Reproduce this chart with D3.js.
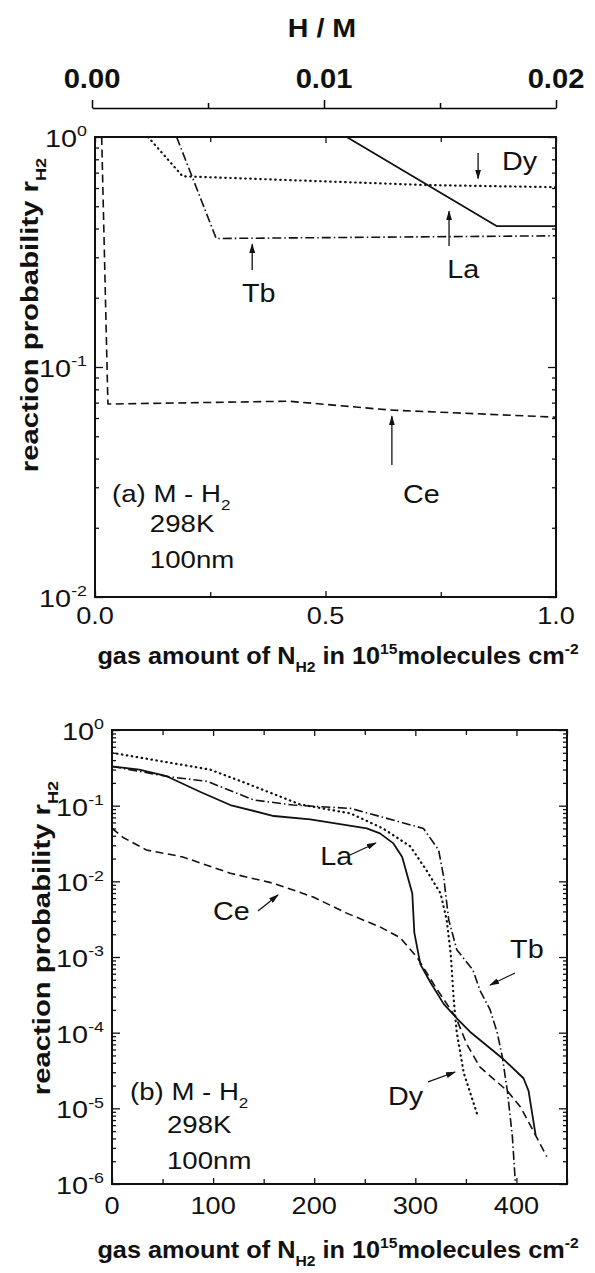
<!DOCTYPE html>
<html>
<head>
<meta charset="utf-8">
<script src="https://cdnjs.cloudflare.com/ajax/libs/d3/7.8.5/d3.min.js"></script>
<style>
  body { margin: 0; background: #fff; }
  svg { display: block; }
  text { font-family: "Liberation Sans", Arial, sans-serif; fill: #111; }
</style>
</head>
<body>
<svg class="fig" width="595" height="1273"></svg>
<script>
// (a) early uptake: N_H2 in 10^15 molecules cm^-2 vs r_H2
var laA = [[0.546, 1.0], [0.871, 0.41], [1.0, 0.41]];
var ceA = [[0.0145, 1.0], [0.028, 0.069], [0.42, 0.071], [0.64, 0.065], [1.0, 0.0605]];
var dyA = [[0.115, 1.0], [0.19, 0.675], [0.72, 0.618], [1.0, 0.605]];
var tbA = [[0.177, 1.0], [0.263, 0.362], [1.0, 0.372]];

// (b) whole uptake
var laB = [[0, 0.33], [27, 0.30], [54, 0.245], [87, 0.153], [117, 0.102], [160, 0.073], [196, 0.066],
  [252, 0.050], [265, 0.043], [278, 0.032], [287, 0.021], [297, 0.0069], [299, 0.0021], [305, 0.0008],
  [315, 0.00046], [328, 0.00024], [341, 0.000155], [354, 0.000103], [386, 0.000046], [407, 0.000025],
  [412, 0.000017], [419, 0.0000044]];
var dyB = [[0, 0.50], [47, 0.39], [97, 0.30], [133, 0.197], [179, 0.113], [186, 0.104], [236, 0.079],
  [268, 0.050], [295, 0.029], [311, 0.014], [325, 0.0069], [331, 0.0031], [335, 0.0011], [338, 0.00027],
  [341, 0.0001], [348, 0.000029], [361, 0.0000085]];
var tbB = [[0, 0.33], [57, 0.24], [94, 0.21], [140, 0.119], [179, 0.102], [236, 0.092], [308, 0.050],
  [323, 0.026], [328, 0.0115], [333, 0.0031], [341, 0.00125], [357, 0.00067], [364, 0.00036],
  [374, 0.0002], [381, 0.0001], [386, 0.000048], [391, 0.000017], [396, 0.0000042], [399, 0.000001]];
var ceB = [[0, 0.050], [11, 0.038], [34, 0.026], [70, 0.021], [117, 0.0128], [160, 0.0094], [199, 0.0062],
  [232, 0.0038], [265, 0.0025], [285, 0.0018], [302, 0.00098], [320, 0.0004], [340, 0.00016],
  [351, 0.00007], [364, 0.000035], [391, 0.000017], [404, 0.0000104], [419, 0.0000044], [430, 0.0000023]];

// ticks
var hmTicks = [0, 0.01, 0.02], hmMinor = [0.005, 0.015];
var xMajorA = [0, 0.5, 1.0], xMinorA = [0.25, 0.75];
var xMajorB = [0, 100, 200, 300, 400], xMinorB = [50, 150, 250, 350, 450];
var decadesA = [-2, 0], decadesB = [-6, 0];

var svg = d3.select(".fig");
svg.append("rect").attr("width", 595).attr("height", 1273).attr("fill", "#fff");

var defs = svg.append("defs");
defs.append("marker").attr("id", "ah")
    .attr("markerUnits", "userSpaceOnUse")
    .attr("markerWidth", 10).attr("markerHeight", 6)
    .attr("refX", 9).attr("refY", 3).attr("orient", "auto")
  .append("path").attr("d", "M0,0 L10,3 L0,6 Z").attr("fill", "#111");

var styles = {
  la: {dash: null, w: 1.8},
  ce: {dash: "8,4.5", w: 1.6},
  dy: {dash: "0.5,4.5", w: 2.2},
  tb: {dash: "9,3,1.5,3", w: 1.6}
};

// text with optional sub/superscript parts, slightly widened like the print
function addText(g, x, y, parts, o) {
  var size = o.size || 22;
  var tr = "translate(" + x + "," + y + ")" + (o.rotate ? " rotate(" + o.rotate + ")" : "") +
    " scale(" + (o.sx || 1.15) + ",1)";
  var t = g.append("text")
      .attr("transform", tr)
      .attr("text-anchor", o.anchor || "start")
      .style("font-size", size + "px")
      .style("font-weight", o.bold ? "bold" : "normal");
  var shift = 0;
  parts.forEach(function(p) {
    var s = p[1] == "sub" ? size * 0.35 : p[1] == "sup" ? -size * 0.45 : 0;
    t.append("tspan")
        .attr("dy", s - shift)
        .style("font-size", p[1] ? (size * 0.62) + "px" : null)
        .text(p[0]);
    shift = s;
  });
  return t;
}

function logTicks(d) {
  var v = [];
  for (var e = d[0]; e < d[1]; e++)
    for (var m = 2; m < 10; m++) v.push(m * Math.pow(10, e));
  return v;
}
function decades(d) { return d3.range(d[0], d[1] + 1).map(function(e) { return Math.pow(10, e); }); }

function drawPanel(p) {
  var g = svg.append("g");
  var x0 = p.x.range()[0], x1 = p.x.range()[1], yTop = p.y.range()[1], yBot = p.y.range()[0];

  function ax(axis, tx, ty) {
    g.append("g").attr("transform", "translate(" + tx + "," + ty + ")")
        .call(axis.tickSizeOuter(0).tickFormat(""))
        .call(function(s) { s.select(".domain").remove(); })
        .selectAll("line").attr("stroke", "#111").attr("stroke-width", 1.3);
  }
  ax(d3.axisBottom(p.x).tickValues(p.xMajor).tickSizeInner(-6), 0, yBot);
  ax(d3.axisBottom(p.x).tickValues(p.xMinor).tickSizeInner(-5), 0, yBot);
  ax(d3.axisTop(p.x).tickValues(p.xMajor).tickSizeInner(-6), 0, yTop);
  ax(d3.axisTop(p.x).tickValues(p.xMinor).tickSizeInner(-5), 0, yTop);
  ax(d3.axisLeft(p.y).tickValues(decades(p.dec)).tickSizeInner(-8), x0, 0);
  ax(d3.axisLeft(p.y).tickValues(logTicks(p.dec)).tickSizeInner(-4), x0, 0);
  ax(d3.axisRight(p.y).tickValues(decades(p.dec)).tickSizeInner(-8), x1, 0);
  ax(d3.axisRight(p.y).tickValues(logTicks(p.dec)).tickSizeInner(-4), x1, 0);

  g.append("rect")
      .attr("x", x0).attr("y", yTop)
      .attr("width", x1 - x0).attr("height", yBot - yTop)
      .attr("fill", "none").attr("stroke", "#111").attr("stroke-width", 2);

  // tick labels
  p.xMajor.forEach(function(v) {
    addText(g, p.x(v), yBot + p.xLabOff, [[p.xFmt(v), ""]], {size: 23, anchor: "middle", sx: 1.18});
  });
  d3.range(p.dec[0], p.dec[1] + 1).forEach(function(e) {
    addText(g, x0 - 8, p.y(Math.pow(10, e)) + 10, [["10", ""], [String(e), "sup"]],
      {size: 24, anchor: "end", sx: 1.2});
  });

  var line = d3.line()
      .x(function(d) { return p.x(d[0]); })
      .y(function(d) { return p.y(d[1]); });

  p.series.forEach(function(s) {
    g.append("path")
        .datum(s.data)
        .attr("d", line)
        .attr("fill", "none")
        .attr("stroke", "#111")
        .attr("stroke-width", styles[s.key].w)
        .attr("stroke-dasharray", styles[s.key].dash)
        .attr("stroke-linecap", s.key == "dy" ? "round" : "butt")
        .attr("stroke-linejoin", "round");
  });

  // titles
  addText(g, p.yTitleX, (yTop + yBot) / 2 + p.yTitleShift, [["reaction probability r", ""], ["H2", "sub"]],
    {size: 24, bold: true, anchor: "middle", rotate: -90, sx: 1.22});
  addText(g, 338, p.xTitleY, [["gas amount of N", ""], ["H2", "sub"], [" in 10", ""], ["15", "sup"],
    ["molecules cm", ""], ["-2", "sup"]], {size: 23, bold: true, anchor: "middle", sx: 1.1});

  // condition note
  addText(g, p.x(p.note[0]), p.y(p.note[1]), [[p.tag + " M - H", ""], ["2", "sub"]], {size: 24});
  addText(g, p.x(p.note[2]), p.y(p.note[3]), [["298K", ""]], {size: 24});
  addText(g, p.x(p.note[2]), p.y(p.note[4]), [["100nm", ""]], {size: 24});

  p.arrows.forEach(function(a) {
    g.append("line")
        .attr("x1", p.x(a.from[0])).attr("y1", p.y(a.from[1]))
        .attr("x2", p.x(a.to[0])).attr("y2", p.y(a.to[1]))
        .attr("stroke", "#111").attr("stroke-width", 1.3)
        .attr("marker-end", "url(#ah)");
    addText(g, p.x(a.lab[0]), p.y(a.lab[1]), [[a.name, ""]], {size: 25});
  });
  return g;
}

var xa = d3.scaleLinear().domain([0, 1]).range([95, 556]);
var ya = d3.scaleLog().domain([0.01, 1]).range([597, 137]);
var hm = d3.scaleLinear().domain([0, 0.02]).range([92, 556]);

var xb = d3.scaleLinear().domain([0, 450]).range([112, 567]);
var yb = d3.scaleLog().domain([1e-6, 1]).range([1184, 730]);

// H / M axis on top of panel (a)
var hmAxis = svg.append("g");
hmAxis.append("g").attr("transform", "translate(0,108)")
    .call(d3.axisTop(hm).tickValues(hmTicks).tickSizeInner(8).tickSizeOuter(0).tickFormat(""))
    .call(function(s) { s.select(".domain").attr("stroke-width", 1.5); });
hmAxis.append("g").attr("transform", "translate(0,108)")
    .call(d3.axisTop(hm).tickValues(hmMinor).tickSizeInner(5).tickSizeOuter(0).tickFormat(""))
    .call(function(s) { s.select(".domain").remove(); });
hmAxis.selectAll("line").attr("stroke-width", 1.5);
hmTicks.forEach(function(v) {
  addText(hmAxis, hm(v), 88, [[d3.format(".2f")(v), ""]], {size: 27, bold: true, anchor: "middle", sx: 1.08});
});
addText(hmAxis, 322, 37, [["H / M", ""]], {size: 26, bold: true, anchor: "middle", sx: 1.1});

drawPanel({
  x: xa, y: ya, dec: decadesA, xMajor: xMajorA, xMinor: xMinorA,
  xFmt: d3.format(".1f"), xLabOff: 27, xTitleY: 664, yTitleX: 38, yTitleShift: -52,
  tag: "(a)", note: [0.037, 0.0259, 0.119, 0.0192, 0.0134],
  series: [{key: "ce", data: ceA}, {key: "dy", data: dyA}, {key: "tb", data: tbA}, {key: "la", data: laA}],
  arrows: [
    {name: "Dy", from: [0.831, 0.852], to: [0.831, 0.66], lab: [0.883, 0.719]},
    {name: "La", from: [0.768, 0.336], to: [0.768, 0.475], lab: [0.764, 0.244]},
    {name: "Tb", from: [0.341, 0.264], to: [0.341, 0.342], lab: [0.319, 0.192]},
    {name: "Ce", from: [0.644, 0.0375], to: [0.644, 0.061], lab: [0.668, 0.0256]}
  ]
});

drawPanel({
  x: xb, y: yb, dec: decadesB, xMajor: xMajorB, xMinor: xMinorB,
  xFmt: d3.format("d"), xLabOff: 30, xTitleY: 1258, yTitleX: 50, yTitleShift: -19,
  tag: "(b)", note: [17.8, 1.29e-5, 54.4, 4.7e-6, 1.6e-6],
  series: [{key: "ce", data: ceB}, {key: "dy", data: dyB}, {key: "tb", data: tbB}, {key: "la", data: laB}],
  arrows: [
    {name: "La", from: [235.4, 0.0223], to: [261, 0.0321], lab: [206, 0.0164]},
    {name: "Ce", from: [144.4, 0.00405], to: [164.2, 0.0066], lab: [100, 0.0031]},
    {name: "Tb", from: [398.6, 0.000615], to: [373.9, 0.000427], lab: [393.7, 0.00097]},
    {name: "Dy", from: [312.6, 0.0000223], to: [339.3, 0.0000302], lab: [273, 0.000011]}
  ]
});
</script>
</body>
</html>
